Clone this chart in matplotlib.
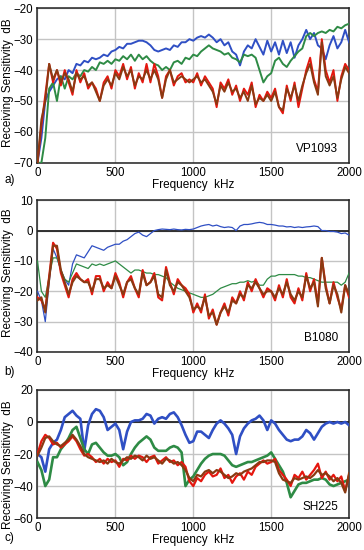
import numpy as np
import matplotlib.pyplot as plt

plt.rcParams['font.family'] = ['Liberation Sans', 'DejaVu Sans']

# frequency grid, kHz (every 25 kHz)
freq = np.arange(0, 2001, 25)

# ---- a) VP1093
a_blue = [-70, -62, -50, -47, -45, -43, -42, -43, -40, -41, -38, -38.5, -37, -37.5, -36, -36.5,
          -36, -35, -35.5, -34, -33.5, -32.5, -33, -31.5, -31.5, -31, -30.5, -30.5, -31, -32, -33.5, -34,
          -33.5, -33, -33.5, -32, -32.5, -31, -31, -30, -30.5, -29.5, -29, -29.5, -28.5, -29.5, -31, -30,
          -32, -31, -34, -35, -38.5, -34, -32, -33, -30, -32.5, -35, -30.5, -34, -31, -35, -30.5,
          -34.5, -31, -36, -32, -30, -27, -30, -28, -32, -33, -36.5, -32, -29, -33, -31, -27, -31]
a_green = [-70, -70, -62, -46, -44, -50, -42, -46, -42, -43, -41, -42, -40, -40.5, -39, -40,
           -37.5, -38, -37, -38, -36.5, -37, -35.5, -36.5, -35, -37, -35, -36.5, -35.5, -37, -38, -38.5,
           -40, -39, -40, -37.5, -37, -38, -36, -36.5, -35, -35.5, -34, -33, -32, -33, -33.5, -34,
           -35, -34.5, -36, -36.5, -37.5, -35, -35.5, -35, -36, -40, -44, -42, -41, -37, -36, -38,
           -39, -37, -35.5, -34, -33, -29, -28, -29, -28, -27.5, -28, -27, -27.5, -26, -26.5, -25.5, -25]
a_red = [-70, -58, -48, -38, -44, -40, -45, -40, -44, -48, -40, -44, -41, -46, -44, -46,
         -50, -44, -42, -46, -40, -42, -38, -43, -39, -46, -41, -44, -38, -44, -38, -42,
         -49, -42, -40, -45, -42, -41, -44, -43, -44, -41, -45, -42, -44, -46, -52, -44,
         -46, -43, -48, -45, -50, -46, -48, -44, -52, -48, -50, -47, -49, -46, -52, -54,
         -45, -50, -44, -52, -46, -40, -36, -43, -47, -30, -40, -44, -40, -50, -42, -38, -40]
a_brown = [-70, -56, -50, -38, -43, -40, -44, -41, -43, -47, -41, -43, -42, -45, -44, -47,
           -50, -45, -43, -45, -41, -43, -39, -42, -40, -45, -42, -43, -40, -43, -40, -43,
           -49, -43, -40, -44, -43, -42, -43, -44, -43, -42, -44, -43, -45, -47, -51, -45,
           -47, -44, -47, -46, -49, -47, -50, -45, -51, -49, -50, -48, -50, -47, -52, -53,
           -46, -49, -45, -50, -45, -41, -38, -44, -48, -31, -42, -45, -42, -49, -43, -39, -41]

# ---- b) B1080
b_blue = [-20, -23, -30, -17, -6, -9, -13, -16, -18, -11, -8, -8.5, -9, -7, -5, -5.5,
          -6, -6.5, -5.5, -5, -4.5, -4.5, -3.5, -3, -2, -1, -0.5, -1.5, -2, -1, 0, 0.3,
          0.5, 0.4, 0.3, 0.5, 0.3, 0.2, 0.4, 0.3, 0.5, 1, 1.5, 1.8, 2, 1.5, 1.8, 1.3,
          1, 1.2, 1, 0, 1.5, 2, 2, 2.2, 2.5, 2.7, 2.5, 2, 2, 1.8, 1.5, 1.5,
          1.2, 1.3, 1, 1.2, 1, 1.2, 1.3, 1.5, 1.3, 0, 0, -0.3, -0.3, -0.5, -1, -0.8, -1.5]
b_green = [-10, -20, -22, -15, -9, -9, -13, -16, -17, -14, -11, -11.5, -12, -12.5, -11, -11.5,
           -11, -11.5, -11, -10.5, -10, -11, -12, -13, -14, -13, -13, -13.5, -14, -14, -14.5, -14.5,
           -15, -15.5, -17, -18, -19, -19.5, -20, -20.5, -21, -21.5, -22, -22, -21.5, -21, -20, -19,
           -18.5, -18, -17.5, -17.5, -17, -17, -16.5, -17, -16.5, -18, -18, -16, -15, -15, -14.5, -14.5,
           -14.5, -14.5, -14.5, -15, -15, -15.5, -15.5, -16, -16.5, -17, -17, -17, -17, -17, -18, -17, -14]
b_red = [-22, -23, -26, -15, -4, -6, -14, -18, -22, -16, -14, -16, -17, -16, -21, -15,
         -15, -20, -17, -19, -14, -17, -22, -17, -15, -19, -22, -13, -18, -17, -14, -22,
         -23, -12, -17, -21, -16, -18, -19, -21, -27, -24, -27, -21, -29, -26, -31, -27,
         -24, -28, -22, -24, -20, -23, -17, -20, -16, -19, -22, -19, -20, -23, -18, -22,
         -16, -22, -24, -19, -23, -14, -20, -16, -24, -9, -18, -24, -17, -22, -26, -18, -22]
b_brown = [-23, -22, -27, -16, -5, -5, -13, -17, -21, -17, -15, -16, -17, -17, -20, -16,
           -16, -19, -18, -19, -15, -18, -21, -17, -16, -19, -21, -14, -18, -17, -15, -21,
           -22, -13, -18, -20, -17, -18, -20, -22, -26, -25, -26, -22, -28, -27, -31, -27,
           -25, -27, -23, -24, -21, -22, -18, -19, -17, -19, -21, -20, -20, -22, -19, -21,
           -17, -21, -23, -20, -22, -15, -19, -17, -25, -9, -19, -24, -18, -21, -27, -18, -21]

# ---- c) SH225
c_blue = [-20, -22, -31, -17, -13, -11, -5, 3, 5, 7, 4, 2, -18, -2, 5, 8,
          7, 3, -5, -3, -1, -5, -17, -6, 0, 1, 1, 2, 5, 4, -1, 2,
          3, 2, 5, 6, 3, -2, -8, -13, -12, -6, -6, -8, -10, -5, -1, 1,
          -1, -4, -8, -20, -9, -4, -1, 1, 2, 4, 1, -5, 1, -1, -5, -8,
          -11, -12, -11, -11, -9, -5, -7, -11, -7, -3, -1, 0, -1, 0, -1, 0, -2]
c_green = [-25, -30, -40, -36, -22, -22, -17, -14, -10, -5, -3, -10, -17, -20, -14, -13,
           -16, -19, -21, -21, -20, -22, -27, -25, -20, -16, -13, -11, -9, -11, -16, -18,
           -18, -18, -16, -15, -16, -19, -40, -36, -34, -30, -26, -23, -21, -20, -20, -20,
           -21, -24, -27, -28, -27, -26, -25, -25, -24, -23, -22, -21, -19, -23, -27, -31,
           -38, -47, -43, -39, -38, -38, -37, -36, -36, -35, -36, -39, -40, -39, -38, -37, -36]
c_red = [-20, -12, -8, -10, -14, -13, -16, -14, -12, -9, -12, -17, -21, -20, -22, -25,
         -23, -26, -23, -25, -24, -28, -23, -24, -21, -23, -21, -22, -25, -22, -21, -26,
         -24, -22, -25, -24, -27, -25, -28, -37, -40, -35, -37, -33, -31, -34, -33, -29,
         -35, -33, -38, -34, -32, -36, -31, -33, -28, -26, -24, -26, -25, -23, -30, -33,
         -36, -40, -33, -35, -31, -36, -33, -30, -26, -35, -31, -36, -33, -37, -34, -43, -33]
c_brown = [-21, -16, -10, -9, -12, -14, -15, -13, -11, -8, -11, -15, -20, -22, -23, -24,
           -25, -24, -26, -23, -25, -26, -24, -22, -23, -21, -22, -24, -21, -23, -22, -24,
           -26, -23, -24, -26, -25, -27, -30, -35, -37, -33, -34, -31, -30, -32, -30, -31,
           -33, -35, -34, -32, -33, -31, -30, -29, -27, -25, -25, -24, -24, -25, -32, -36,
           -37, -38, -35, -36, -35, -34, -35, -33, -30, -33, -32, -34, -37, -35, -38, -44, -32]

names = ['VP1093', 'B1080', 'SH225']
letters = ['a)', 'b)', 'c)']
ylims = [(-70, -20), (-40, 10), (-60, 20)]
ysteps = [10, 10, 20]
series = [(a_blue, a_green, a_red, a_brown),
          (b_blue, b_green, b_red, b_brown),
          (c_blue, c_green, c_red, c_brown)]
widths = [(1.4, 1.4, 1.4, 1.4), (0.9, 0.9, 1.5, 1.5), (1.9, 1.9, 1.6, 1.6)]
colors = ['#2f4fc4', '#2e8b45', '#e5170f', '#8a3a12']

# axes boxes [left, bottom, width, height] in figure fractions
boxes = [[0.103, 0.704, 0.856, 0.281],
         [0.103, 0.360, 0.856, 0.276],
         [0.103, 0.058, 0.856, 0.233]]
letter_y = [0.672, 0.323, 0.022]
label_y = [0.52, 0.52, 0.42]

fig = plt.figure(figsize=(3.64, 5.5), dpi=100)
for i in range(3):
    ax = fig.add_axes(boxes[i])
    lo, hi = ylims[i]
    ax.set_xlim(0, 2000)
    ax.set_ylim(lo, hi)
    ax.set_xticks([0, 500, 1000, 1500, 2000])
    ax.set_yticks(np.arange(lo, hi + 1, ysteps[i]))
    ax.grid(True, color='#c4c4c4', lw=1.0)
    ax.set_axisbelow(True)
    if i > 0:
        ax.axhline(0, color='#222222', lw=1.3, zorder=2)
    for s, w, c in zip(series[i], widths[i], colors):
        ax.plot(freq, s, color=c, lw=w, zorder=3)
    ax.tick_params(length=0, labelsize=8.3, pad=3)
    for sp in ax.spines.values():
        sp.set_linewidth(1.1)
        sp.set_color('#222222')
    ax.set_xlabel('Frequency  kHz', fontsize=8.5, labelpad=0)
    ax.set_ylabel('Receiving Sensitivity  dB', fontsize=8.5)
    ax.yaxis.set_label_coords(-0.075, label_y[i])
    ax.text(0.965, 0.09, names[i], transform=ax.transAxes, ha='right', va='center',
            fontsize=8.5)
    fig.text(0.012, letter_y[i], letters[i], fontsize=8.5, va='center')

fig.savefig('out.png', dpi=100)
